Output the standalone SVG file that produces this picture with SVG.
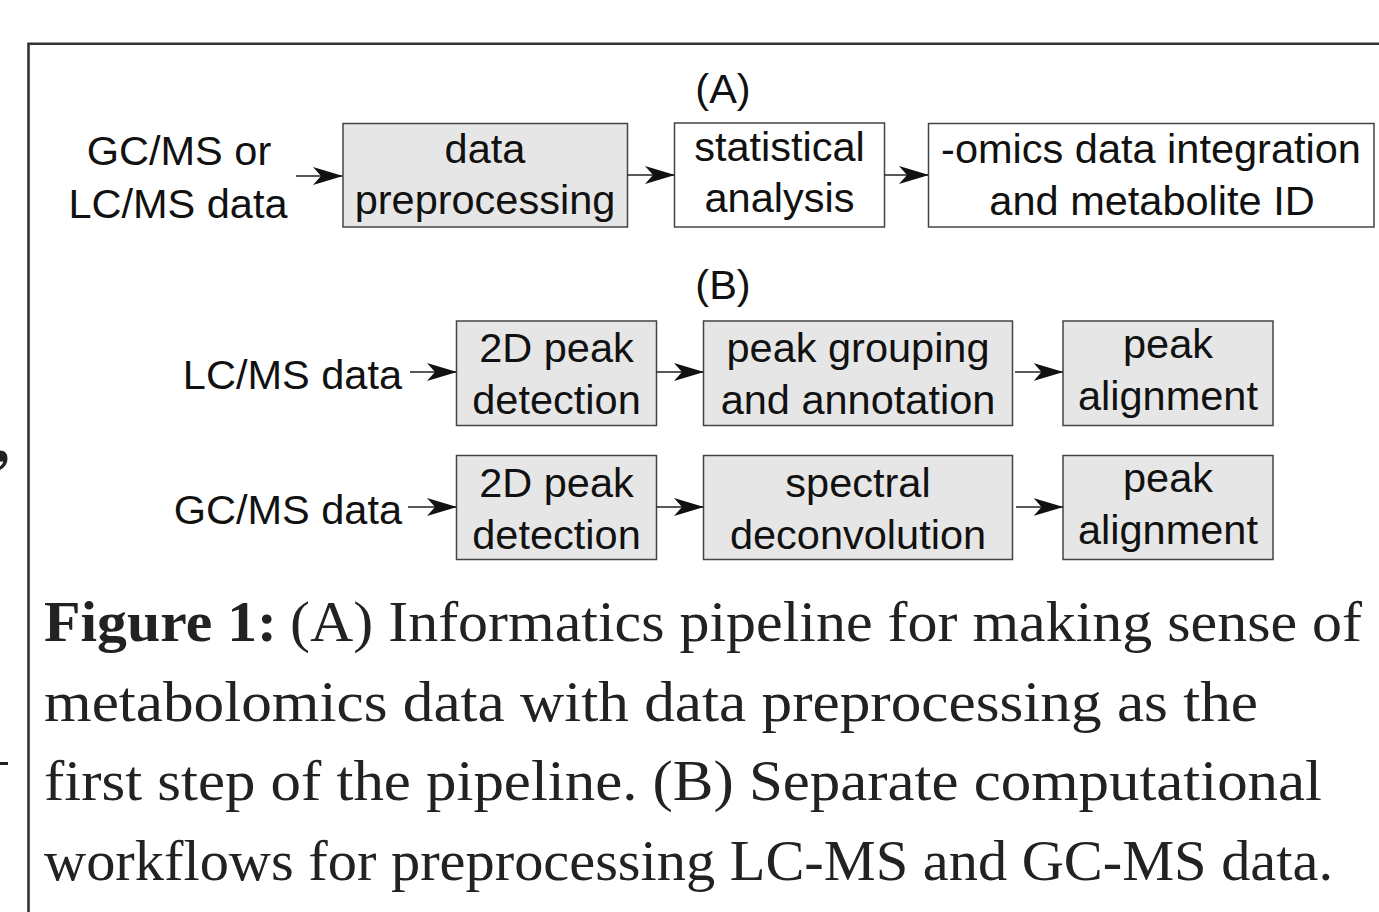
<svg xmlns="http://www.w3.org/2000/svg" width="1379" height="912" viewBox="0 0 1379 912">
  <style>
    .frame { fill: none; stroke: #333; stroke-width: 2.6; }
    .box { stroke: #444; stroke-width: 1.5; }
    .gray { fill: #e6e6e6; }
    .white { fill: #ffffff; }
    .lbl { font-family: "Liberation Sans", Arial, sans-serif; font-size: 41.5px; fill: #111; }
    .mid { text-anchor: middle; }
    .end { text-anchor: end; }
    .edge { stroke: #222; stroke-width: 1.6; fill: none; marker-end: url(#head); }
    .cap { font-family: "Liberation Serif", "Times New Roman", serif; font-size: 58px; fill: #222; }
    .capb { font-weight: bold; }
  </style>
  <defs>
    <marker id="head" markerUnits="userSpaceOnUse" viewBox="0 0 30 20" markerWidth="30" markerHeight="20" refX="29" refY="10" orient="auto">
      <path d="M0,1 L30,10 L0,19 L8,10 Z" fill="#111"/>
    </marker>
  </defs>

  <rect width="1379" height="912" fill="#ffffff"/>

  <!-- marks of the neighbouring page column at the left margin -->
  <path d="M0,450.5 Q7.5,450.5 7.5,458.5 Q7.5,466 0,470 L0,466.5 Q3,464 3.2,461.5 L0,461.5 Z" fill="#222"/>
  <rect x="0" y="762" width="8" height="3" fill="#222"/>

  <!-- figure frame -->
  <path class="frame" d="M28.5,912 V43.7 H1379"/>

  <!-- (A) overall pipeline -->
  <text class="lbl mid" x="723" y="103">(A)</text>
  <g id="input-a">
    <text class="lbl mid" x="179" y="165">GC/MS or</text>
    <text class="lbl mid" x="178" y="218">LC/MS data</text>
  </g>
  <g id="data-preprocessing">
    <rect class="box gray" x="343" y="123.5" width="284.5" height="103.5"/>
    <text class="lbl mid" x="485" y="163">data</text>
    <text class="lbl mid" x="485" y="214">preprocessing</text>
  </g>
  <g id="statistical-analysis">
    <rect class="box white" x="674.5" y="123" width="210" height="104"/>
    <text class="lbl mid" x="779.5" y="161">statistical</text>
    <text class="lbl mid" x="779.5" y="212">analysis</text>
  </g>
  <g id="integration">
    <rect class="box white" x="928.5" y="123.5" width="445.5" height="103.5"/>
    <text class="lbl mid" x="1151" y="163">-omics data integration</text>
    <text class="lbl mid" x="1152" y="215">and metabolite ID</text>
  </g>

  <!-- (B) preprocessing workflows -->
  <text class="lbl mid" x="723" y="299">(B)</text>

  <g id="input-lcms">
    <text class="lbl end" x="402" y="389">LC/MS data</text>
  </g>
  <g id="lc-peak-detection">
    <rect class="box gray" x="456.5" y="321" width="200" height="104.5"/>
    <text class="lbl mid" x="556.5" y="362">2D peak</text>
    <text class="lbl mid" x="556.5" y="414">detection</text>
  </g>
  <g id="lc-peak-grouping">
    <rect class="box gray" x="703.5" y="321" width="309" height="104.5"/>
    <text class="lbl mid" x="858" y="362">peak grouping</text>
    <text class="lbl mid" x="858" y="414">and annotation</text>
  </g>
  <g id="lc-peak-alignment">
    <rect class="box gray" x="1063" y="321" width="210" height="104.5"/>
    <text class="lbl mid" x="1168" y="358">peak</text>
    <text class="lbl mid" x="1168" y="410">alignment</text>
  </g>

  <g id="input-gcms">
    <text class="lbl end" x="402" y="524">GC/MS data</text>
  </g>
  <g id="gc-peak-detection">
    <rect class="box gray" x="456.5" y="455.5" width="200" height="104"/>
    <text class="lbl mid" x="556.5" y="497">2D peak</text>
    <text class="lbl mid" x="556.5" y="549">detection</text>
  </g>
  <g id="gc-deconvolution">
    <rect class="box gray" x="703.5" y="455.5" width="309" height="104"/>
    <text class="lbl mid" x="858" y="497">spectral</text>
    <text class="lbl mid" x="858" y="549">deconvolution</text>
  </g>
  <g id="gc-peak-alignment">
    <rect class="box gray" x="1063" y="455.5" width="210" height="104"/>
    <text class="lbl mid" x="1168" y="492">peak</text>
    <text class="lbl mid" x="1168" y="544">alignment</text>
  </g>

  <!-- connectors -->
  <g id="connectors">
    <path class="edge" d="M296,176 H342"/>
    <path class="edge" d="M627.5,175 H674"/>
    <path class="edge" d="M884.5,175 H928"/>
    <path class="edge" d="M410,372 H456"/>
    <path class="edge" d="M656.5,372 H703"/>
    <path class="edge" d="M1015,372 H1062.5"/>
    <path class="edge" d="M408,507 H456"/>
    <path class="edge" d="M656.5,507 H703"/>
    <path class="edge" d="M1016,507 H1062.5"/>
  </g>

  <!-- caption -->
  <g id="caption">
    <text class="cap capb" x="44" y="641" textLength="233" lengthAdjust="spacingAndGlyphs">Figure 1:</text>
    <text class="cap" x="290" y="641" textLength="1072" lengthAdjust="spacingAndGlyphs">(A) Informatics pipeline for making sense of</text>
    <text class="cap" x="44" y="721" textLength="1214" lengthAdjust="spacingAndGlyphs">metabolomics data with data preprocessing as the</text>
    <text class="cap" x="44" y="800" textLength="1278" lengthAdjust="spacingAndGlyphs">first step of the pipeline. (B) Separate computational</text>
    <text class="cap" x="44" y="880" textLength="1289" lengthAdjust="spacingAndGlyphs">workflows for preprocessing LC-MS and GC-MS data.</text>
  </g>
</svg>
